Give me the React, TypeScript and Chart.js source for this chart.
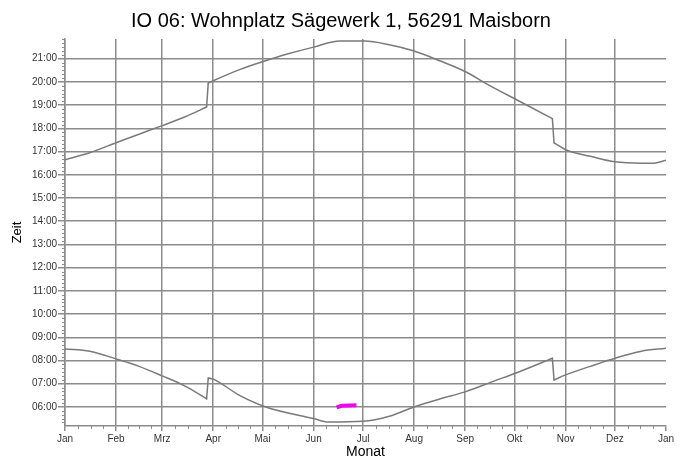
import React, { useEffect, useRef } from "react";
import { Chart, registerables } from "chart.js";

Chart.register(...registerables);

const titleText = "IO 06: Wohnplatz Sägewerk 1, 56291 Maisborn";
const xTitle = "Monat";
const yTitle = "Zeit";

const monthLabels = ["Jan", "Feb", "Mrz", "Apr", "Mai", "Jun", "Jul", "Aug", "Sep", "Okt", "Nov", "Dez", "Jan"];
const monthStartDays = [0, 31, 59, 90, 120, 151, 181, 212, 243, 273, 304, 334, 365];
const hourTicks = [6, 7, 8, 9, 10, 11, 12, 13, 14, 15, 16, 17, 18, 19, 20, 21];

// Upper curve (sunset, hours)
const sunsetDays = [0, 15, 31, 45, 59, 73, 86, 87, 90, 106, 120, 135, 151, 167, 182, 197, 212, 228, 243, 256, 276, 296, 297, 304, 319, 334, 350, 357, 365];
const sunsetHours = [16.65, 16.95, 17.38, 17.75, 18.12, 18.5, 18.92, 19.95, 20.05, 20.53, 20.87, 21.2, 21.5, 21.76, 21.76, 21.6, 21.33, 20.9, 20.45, 19.92, 19.17, 18.42, 17.38, 17.08, 16.8, 16.56, 16.5, 16.5, 16.63];

// Lower curve (sunrise, hours)
const sunriseDays = [0, 15, 31, 45, 59, 73, 86, 87, 90, 106, 122, 151, 160, 181, 197, 212, 228, 243, 258, 276, 296, 297, 304, 319, 334, 350, 365];
const sunriseHours = [8.5, 8.4, 8.07, 7.75, 7.34, 6.9, 6.35, 7.25, 7.2, 6.5, 6.0, 5.5, 5.35, 5.38, 5.6, 6.0, 6.35, 6.65, 7.05, 7.52, 8.1, 7.16, 7.38, 7.75, 8.1, 8.4, 8.53];

// Magenta marker (shadow period)
const flickerDays = [165, 168, 177];
const flickerHours = [5.98, 6.05, 6.07];

const gridColor = "#8c8c8c";
const fontFamily = "'Liberation Sans', Arial, sans-serif";

const minorTicksPlugin = {
  id: "minorTicks",
  afterDraw(chart: any) {
    const { ctx, chartArea } = chart;
    const x = chart.scales.x;
    const y = chart.scales.y;
    ctx.save();
    ctx.strokeStyle = gridColor;
    ctx.lineWidth = 1;
    ctx.beginPath();
    const start = Math.ceil(y.min * 6);
    const end = Math.floor(y.max * 6);
    for (let m = start; m <= end; m++) {
      if (m % 6 === 0) continue;
      const py = Math.round(y.getPixelForValue(m / 6)) + 0.5;
      ctx.moveTo(chartArea.left - 3, py);
      ctx.lineTo(chartArea.left, py);
    }
    for (let i = 0; i < monthStartDays.length - 1; i++) {
      const a = monthStartDays[i];
      const b = monthStartDays[i + 1];
      for (let q = 1; q < 4; q++) {
        const px = Math.round(x.getPixelForValue(a + ((b - a) * q) / 4)) + 0.5;
        ctx.moveTo(px, chartArea.bottom);
        ctx.lineTo(px, chartArea.bottom + 3);
      }
    }
    ctx.stroke();
    ctx.restore();
  },
};

// Split a curve into smooth runs and straight DST-jump pieces (consecutive days)
function segments(days: number[], hours: number[]) {
  const segs: { x: number; y: number }[][] = [];
  let cur: { x: number; y: number }[] = [];
  for (let i = 0; i < days.length; i++) {
    cur.push({ x: days[i], y: hours[i] });
    if (i < days.length - 1 && days[i + 1] - days[i] === 1) {
      segs.push(cur);
      segs.push([{ x: days[i], y: hours[i] }, { x: days[i + 1], y: hours[i + 1] }]);
      cur = [];
    }
  }
  segs.push(cur);
  return segs;
}

export default function App() {
  const canvasRef = useRef<HTMLCanvasElement | null>(null);

  useEffect(() => {
    const canvas = canvasRef.current;
    if (!canvas) return;
    const curveStyle = {
      borderColor: "#7a7a7a",
      borderWidth: 1.5,
      pointRadius: 0,
      cubicInterpolationMode: "monotone",
      borderCapStyle: "round",
      fill: false,
    };
    const curveSets = [
      ...segments(sunsetDays, sunsetHours),
      ...segments(sunriseDays, sunriseHours),
    ].map((pts) => ({ data: pts, ...curveStyle }));
    const chart = new Chart(canvas, {
      type: "line",
      data: {
        datasets: [
          ...curveSets,
          {
            data: flickerDays.map((d, i) => ({ x: d, y: flickerHours[i] })),
            borderColor: "#ee00ee",
            borderWidth: 4,
            borderCapStyle: "butt",
            pointRadius: 0,
            tension: 0,
            fill: false,
          },
        ],
      },
      options: {
        responsive: false,
        animation: false,
        events: [],
        layout: { padding: { left: 16, right: 21, top: 0, bottom: 0 } },
        plugins: {
          legend: { display: false },
          tooltip: { enabled: false },
          title: {
            display: true,
            text: titleText,
            color: "#000",
            font: { family: fontFamily, size: 20, weight: "normal" },
            padding: { top: 9, bottom: 6 },
          },
        },
        scales: {
          x: {
            type: "linear",
            min: 0,
            max: 365,
            afterBuildTicks: (s: any) => {
              s.ticks = monthStartDays.map((v) => ({ value: v }));
            },
            afterFit: (s: any) => {
              s.height = 33;
            },
            ticks: {
              autoSkip: false,
              maxRotation: 0,
              padding: 2,
              color: "#333",
              font: { family: fontFamily, size: 10 },
              callback: (_v: any, i: number) => monthLabels[i],
            },
            grid: {
              color: (c: any) => (c.index === monthStartDays.length - 1 ? "rgba(0,0,0,0)" : gridColor),
              tickColor: gridColor,
              lineWidth: 1.5,
              tickLength: 5,
            },
            border: { color: gridColor, width: 1.5 },
            title: {
              display: true,
              text: xTitle,
              color: "#000",
              font: { family: fontFamily, size: 14, lineHeight: 1 },
              padding: { top: 0, bottom: 0 },
            },
          },
          y: {
            type: "linear",
            min: 5.18,
            max: 21.85,
            afterBuildTicks: (s: any) => {
              s.ticks = hourTicks.map((v) => ({ value: v }));
            },
            afterFit: (s: any) => {
              s.width = 49;
            },
            ticks: {
              padding: 1,
              color: "#333",
              font: { family: fontFamily, size: 10 },
              callback: (v: any) => String(v).padStart(2, "0") + ":00",
            },
            grid: {
              color: gridColor,
              lineWidth: 1.5,
              tickLength: 7,
            },
            border: { color: gridColor, width: 1.5 },
            title: {
              display: true,
              text: yTitle,
              color: "#000",
              font: { family: fontFamily, size: 13 },
              padding: { top: -6, bottom: 0 },
            },
          },
        },
      },
      plugins: [minorTicksPlugin],
    } as any);
    return () => chart.destroy();
  }, []);

  return (
    <div style={{ position: "absolute", left: 0, top: 0, width: 687, height: 459, background: "#fff" }}>
      <canvas ref={canvasRef} width={687} height={459} style={{ display: "block" }} />
    </div>
  );
}
